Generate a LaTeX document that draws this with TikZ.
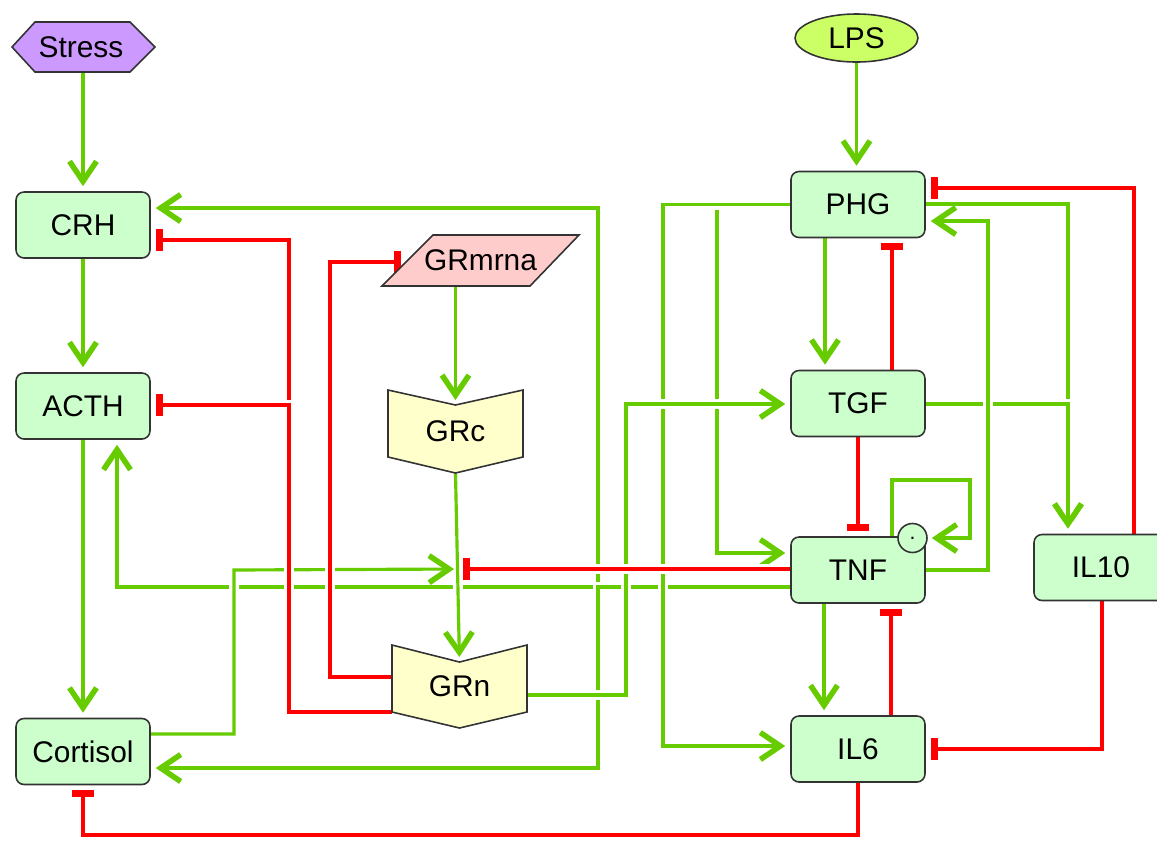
\documentclass[tikz,border=0pt]{standalone}
\usepackage{fontspec}
\setmainfont{Liberation Sans}
\usetikzlibrary{arrows.meta,shapes.geometric,backgrounds}
\definecolor{ngreen}{HTML}{CCFFCC}
\definecolor{stresscol}{HTML}{CC99FF}
\definecolor{mrnacol}{HTML}{FFCCCC}
\definecolor{grcol}{HTML}{FFFFCC}
\definecolor{lpscol}{HTML}{CCFF66}
\definecolor{lgreen}{HTML}{66CC00}
\definecolor{lred}{HTML}{FF0000}
\definecolor{bordercol}{HTML}{333333}
\newcommand\nodefont{\fontsize{17}{20}\selectfont}
\begin{document}
\begin{tikzpicture}[x=0.02cm,y=-0.02cm,
  box/.style={draw=bordercol, line width=0.9pt, fill=ngreen, rounded corners=0.16cm,
    minimum width=2.68cm, minimum height=1.32cm, inner sep=0pt, font=\nodefont},
  shapetext/.style={inner sep=0pt, font=\nodefont},
  shapeline/.style={draw=bordercol, line width=0.9pt},
  act/.style={draw=lgreen, line width=1.8pt,
    -{Straight Barb[length=0.4cm,width=0.54cm,line width=0.11cm]},
    shorten >=0.1cm, preaction={draw=white, line width=0.2cm, arrows=-}},
  inh/.style={draw=lred, line width=1.8pt,
    -{Bar[width=0.44cm,line width=0.14cm]},
    shorten >=0.1cm, preaction={draw=white, line width=0.2cm, arrows=-}}
]
\useasboundingbox (0,0) rectangle (1157,840);

% ---- shapes ----
\path[shapeline, fill=stresscol] (12,47) -- (35,22) -- (130,22) -- (155,47) -- (130,72) -- (35,72) -- cycle;
\node[shapetext, minimum width=2.86cm, minimum height=1cm] (stress) at (81,47) {Stress};

\node[ellipse, draw=bordercol, line width=0.9pt, fill=lpscol, minimum width=2.46cm,
  minimum height=0.96cm, inner sep=0pt, font=\nodefont] (lps) at (856.5,38) {LPS};

\path[shapeline, fill=mrnacol] (433,235) -- (579,235) -- (530,286) -- (382,286) -- cycle;
\node[shapetext, minimum width=3.94cm, minimum height=1.02cm] (grmrna) at (480.5,260.5) {GRmrna};
\coordinate (grmrnaedge) at (406,262);

\path[shapeline, fill=grcol] (388,390) -- (455.5,405) -- (523,390) -- (523,457) -- (455.5,473) -- (388,457) -- cycle;
\node[shapetext, minimum width=2.7cm, minimum height=1.66cm] (grc) at (455.5,431.5) {GRc};
\coordinate (grcnotch) at (455.5,405);

\path[shapeline, fill=grcol] (392,645) -- (459.5,662) -- (527,645) -- (527,712) -- (459.5,728) -- (392,712) -- cycle;
\node[shapetext, minimum width=2.7cm, minimum height=1.66cm] (grn) at (459.5,686.5) {GRn};
\coordinate (grnnotch) at (459.5,662);

\coordinate (mod) at (457,569);

\node[box] (crh) at (83,225) {CRH};
\node[box] (acth) at (83,406) {ACTH};
\node[box] (cortisol) at (83,751.5) {Cortisol};
\node[box] (phg) at (858,204.5) {PHG};
\node[box] (tgf) at (858,403.5) {TGF};
\node[box] (tnf) at (858,570) {TNF};
\node[box] (il6) at (858,749) {IL6};
\node[box] (il10) at (1101,567.5) {IL10};
\node[circle, draw=bordercol, line width=0.9pt, fill=ngreen, minimum size=0.58cm,
  inner sep=0pt, font=\fontsize{12}{12}\selectfont] (tnfc) at (912.5,538) {.};

% ---- connectors ----
\begin{pgfonlayer}{background}
% TNF to HPA axis
\draw[act] (tnf.west |- 0,587) -- (117,587) -- (acth.south -| 117,0);
\draw[act] (tnf.west |- 0,587) -- (598,587) -- (598,208) -- (crh.east |- 0,208);
\draw[act] (tnf.west |- 0,587) -- (598,587) -- (598,768) -- (cortisol.east |- 0,768);
% PHG branches
\draw[act] (phg.west) -- (717,204.5) -- (717,553) -- (tnf.west |- 0,553);
\draw[act] (phg.west) -- (663,204.5) -- (663,746) -- (il6.west |- 0,746);
% GRn to TGF
\draw[act] (grn.east |- 0,695) -- (626,695) -- (626,404) -- (tgf.west |- 0,404);
% GR chain
\draw[act] (grc.north |- grmrna.south) -- (grcnotch);
\draw[act] (grc.south) -- (grnnotch);
\draw[act, shorten >=0.06cm] (cortisol.east |- 0,734) -- (234,734) -- (234,570) -- (mod);
% vertical chains
\draw[act] (crh.north |- stress.south) -- (crh.north);
\draw[act] (crh.south) -- (acth.north);
\draw[act] (acth.south) -- (cortisol.north);
\draw[act] (lps.south) -- (lps.south |- phg.north);
\draw[act] (phg.south -| 825,0) -- (tgf.north -| 825,0);
\draw[act] (tnf.south -| 824,0) -- (il6.north -| 824,0);
% IL10 activation
\draw[act] (phg.east |- 0,204) -- (1068,204) -- (il10.north -| 1068,0);
\draw[act] (tgf.east |- 0,404) -- (1068,404) -- (il10.north -| 1068,0);
% TNF feedback
\draw[act] (tnf.east) -- (988,570) -- (988,221) -- (phg.east |- 0,221);
\draw[act, shorten >=0.08cm] (tnf.north -| 892,0) -- (892,480) -- (970,480) -- (970,538) -- (tnfc.east);
% inhibitions
\draw[inh] (grn.west |- 0,712) -- (289,712) -- (289,240) -- (crh.east |- 0,240);
\draw[inh] (grn.west |- 0,712) -- (289,712) -- (289,405) -- (acth.east |- 0,405);
\draw[inh] (grn.west |- 0,677) -- (330,677) -- (330,262) -- (grmrnaedge);
\draw[inh, shorten >=0.12cm] (tnf.west |- 0,569) -- (mod);
\draw[inh] (tgf.north -| 892,0) -- (phg.south -| 892,0);
\draw[inh] (tgf.south) -- (tnf.north);
\draw[inh] (il6.north -| 891,0) -- (tnf.south -| 891,0);
\draw[inh] (il10.north -| 1134,0) -- (1134,188) -- (phg.east |- 0,188);
\draw[inh] (il10.south -| 1102,0) -- (1102,749) -- (il6.east);
\draw[inh] (il6.south) -- (858,835) -- (83,835) -- (cortisol.south);
\end{pgfonlayer}
\end{tikzpicture}
\end{document}
